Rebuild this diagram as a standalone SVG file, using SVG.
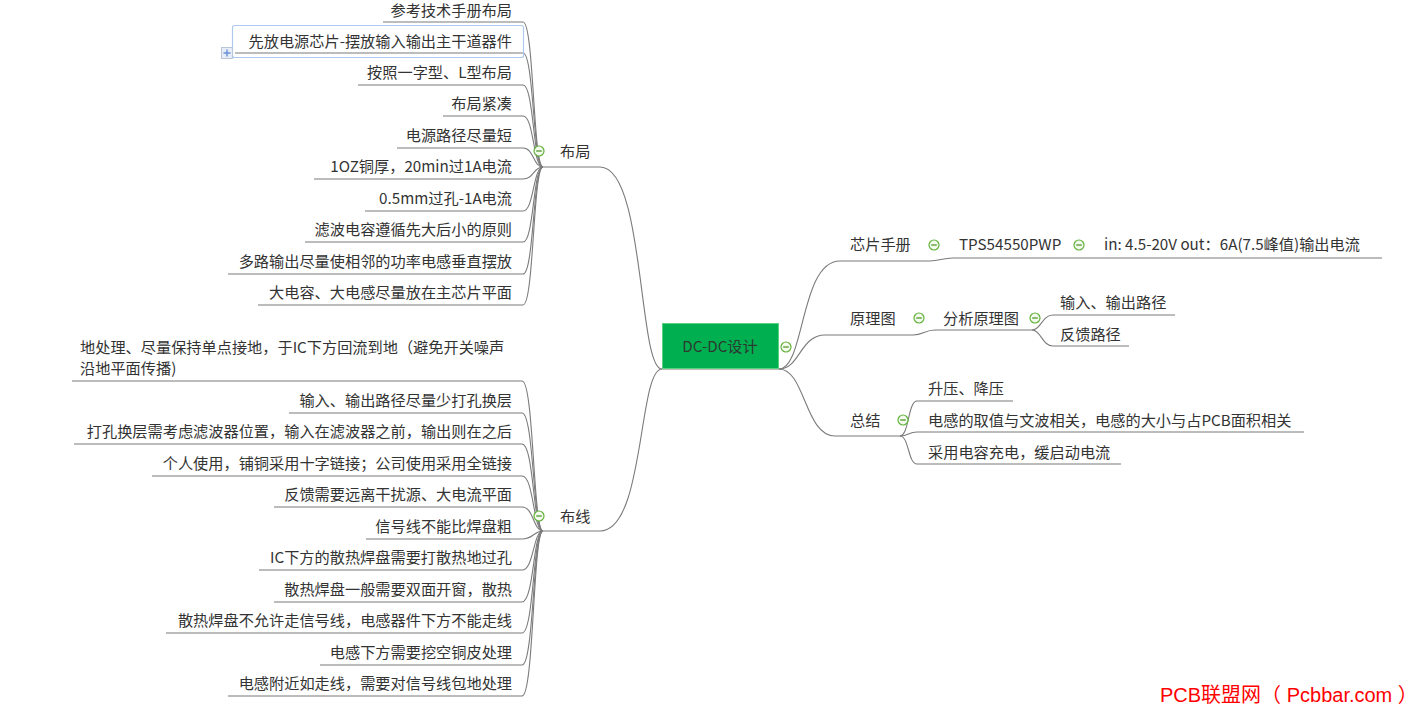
<svg xmlns="http://www.w3.org/2000/svg" xmlns:xlink="http://www.w3.org/1999/xlink" width="1421" height="713" viewBox="0 0 1421 713">
<style>
text{font-family:"Noto Sans CJK SC","Microsoft YaHei",sans-serif;font-size:15.2px;fill:#333}
.e{text-anchor:end}
.c path{fill:none;stroke:#7b7b7b;stroke-width:1.1}
.wm{font-family:"Liberation Sans","Noto Sans CJK SC",sans-serif;font-size:20px;fill:#ff0000}
</style>
<defs>
<g id="minus"><circle cx="0" cy="0" r="5" fill="#f4fbee" stroke="#62b23c" stroke-width="1.2"/><line x1="-2.8" y1="0" x2="2.8" y2="0" stroke="#4f9a2c" stroke-width="1.3"/></g>
</defs>
<rect width="1421" height="713" fill="#fff"/>
<g class="c" id="connectors">
<path d="M662,369 C638,369 645,167 600,167 L543,167"/>
<path d="M662,369 C638,369 645,531 600,531 L543,531"/>
<path d="M662,369 L779,369"/>
<path d="M779,369 C805,369 800,261 840,261 L930,261 C940,261 942,258 953,258 L1382,258"/>
<path d="M779,369 C800,369 800,335 825,335 L913,335 C923,335 925,330 935,330 L1032,330"/>
<path d="M779,369 C805,369 805,436 835,436 L900,436"/>
<path d="M1032,330 C1041,330 1042,315 1053,315 L1175,315"/>
<path d="M1032,330 C1041,330 1042,346 1053,346 L1129,346"/>
<path d="M900,436 C909,436 908,401 917,401 L1013,401"/>
<path d="M900,436 C909,436 908,432 917,432 L1304,432"/>
<path d="M900,436 C909,436 908,464 917,464 L1121,464"/>
<path d="M543,167 C533,167 534,22 523,22 L383,22"/>
<path d="M543,167 C533,167 534,53 523,53 L235,53"/>
<path d="M543,167 C533,167 534,85 523,85 L358,85"/>
<path d="M543,167 C533,167 534,116 523,116 L443,116"/>
<path d="M543,167 C533,167 534,148 523,148 L397,148"/>
<path d="M543,167 C533,167 534,179 523,179 L314,179"/>
<path d="M543,167 C533,167 534,211 523,211 L365,211"/>
<path d="M543,167 C533,167 534,242 523,242 L305,242"/>
<path d="M543,167 C533,167 534,274 523,274 L228,274"/>
<path d="M543,167 C533,167 534,305 523,305 L258,305"/>
<path d="M543,531 C533,531 534,381 522,381 L72,381"/>
<path d="M543,531 C533,531 534,413 522,413 L289,413"/>
<path d="M543,531 C533,531 534,444 522,444 L74,444"/>
<path d="M543,531 C533,531 534,476 522,476 L152,476"/>
<path d="M543,531 C533,531 534,507 522,507 L274,507"/>
<path d="M543,531 C533,531 534,539 522,539 L366,539"/>
<path d="M543,531 C533,531 534,570 522,570 L259,570"/>
<path d="M543,531 C533,531 534,602 522,602 L274,602"/>
<path d="M543,531 C533,531 534,633 522,633 L166,633"/>
<path d="M543,531 C533,531 534,665 522,665 L320,665"/>
<path d="M543,531 C533,531 534,696 522,696 L228,696"/>
</g>
<g id="root">
<rect x="662.5" y="323.5" width="116" height="45" fill="#00b050" stroke="#5ad17f" stroke-width="1"/>
<text x="720" y="352" text-anchor="middle" style="fill:#2b3b30">DC-DC设计</text>
<use href="#minus" x="786" y="347"/>
</g>
<g id="n-buju">
<text x="560" y="157">布局</text>
<use href="#minus" x="539" y="151"/>
</g>
<g id="n-buju-1"><text class="e" x="512" y="16">参考技术手册布局</text></g>
<g id="n-buju-2">
<rect x="232.5" y="25.5" width="291" height="32" rx="2" fill="none" stroke="#aec8ee" stroke-width="1.2"/>
<rect x="221.5" y="47.5" width="11" height="11" fill="#e6edf6" stroke="#b9c7d9"/>
<path d="M227,49.5 V56.5 M223.5,53 H230.5" stroke="#6a8fd8" stroke-width="1.4"/>
<text class="e" x="512" y="47">先放电源芯片-摆放输入输出主干道器件</text>
</g>
<g id="n-buju-3"><text class="e" x="512" y="78">按照一字型、L型布局</text></g>
<g id="n-buju-4"><text class="e" x="512" y="109">布局紧凑</text></g>
<g id="n-buju-5"><text class="e" x="512" y="141">电源路径尽量短</text></g>
<g id="n-buju-6"><text class="e" x="512" y="172">1OZ铜厚，20min过1A电流</text></g>
<g id="n-buju-7"><text class="e" x="512" y="204">0.5mm过孔-1A电流</text></g>
<g id="n-buju-8"><text class="e" x="512" y="235">滤波电容遵循先大后小的原则</text></g>
<g id="n-buju-9"><text class="e" x="512" y="267">多路输出尽量使相邻的功率电感垂直摆放</text></g>
<g id="n-buju-10"><text class="e" x="512" y="298">大电容、大电感尽量放在主芯片平面</text></g>
<g id="n-buxian">
<text x="560" y="522">布线</text>
<use href="#minus" x="539" y="516"/>
</g>
<g id="n-buxian-1"><text x="80" y="353">地处理、尽量保持单点接地，于IC下方回流到地（避免开关噪声</text><text x="80" y="374">沿地平面传播)</text></g>
<g id="n-buxian-2"><text class="e" x="512" y="406">输入、输出路径尽量少打孔换层</text></g>
<g id="n-buxian-3"><text class="e" x="512" y="437">打孔换层需考虑滤波器位置，输入在滤波器之前，输出则在之后</text></g>
<g id="n-buxian-4"><text class="e" x="512" y="469">个人使用，铺铜采用十字链接；公司使用采用全链接</text></g>
<g id="n-buxian-5"><text class="e" x="512" y="500">反馈需要远离干扰源、大电流平面</text></g>
<g id="n-buxian-6"><text class="e" x="512" y="532">信号线不能比焊盘粗</text></g>
<g id="n-buxian-7"><text class="e" x="512" y="563">IC下方的散热焊盘需要打散热地过孔</text></g>
<g id="n-buxian-8"><text class="e" x="512" y="595">散热焊盘一般需要双面开窗，散热</text></g>
<g id="n-buxian-9"><text class="e" x="512" y="626">散热焊盘不允许走信号线，电感器件下方不能走线</text></g>
<g id="n-buxian-10"><text class="e" x="512" y="658">电感下方需要挖空铜皮处理</text></g>
<g id="n-buxian-11"><text class="e" x="512" y="689">电感附近如走线，需要对信号线包地处理</text></g>
<g id="n-chip">
<text x="850" y="250">芯片手册</text>
<use href="#minus" x="934" y="245"/>
</g>
<g id="n-tps">
<text x="959" y="250">TPS54550PWP</text>
<use href="#minus" x="1079" y="245"/>
</g>
<g id="n-spec"><text x="1104" y="250">in: 4.5-20V out：6A(7.5峰值)输出电流</text></g>
<g id="n-sch">
<text x="850" y="324">原理图</text>
<use href="#minus" x="919" y="318"/>
</g>
<g id="n-analysis">
<text x="943" y="324">分析原理图</text>
<use href="#minus" x="1035" y="318"/>
</g>
<g id="n-io"><text x="1060" y="308">输入、输出路径</text></g>
<g id="n-fb"><text x="1060" y="340">反馈路径</text></g>
<g id="n-sum">
<text x="850" y="426">总结</text>
<use href="#minus" x="903" y="420"/>
</g>
<g id="n-sum-1"><text x="928" y="394">升压、降压</text></g>
<g id="n-sum-2"><text x="928" y="426">电感的取值与文波相关，电感的大小与占PCB面积相关</text></g>
<g id="n-sum-3"><text x="928" y="458">采用电容充电，缓启动电流</text></g>
<text class="wm" x="1160" y="702">PCB联盟网（ Pcbbar.com ）</text>
</svg>
